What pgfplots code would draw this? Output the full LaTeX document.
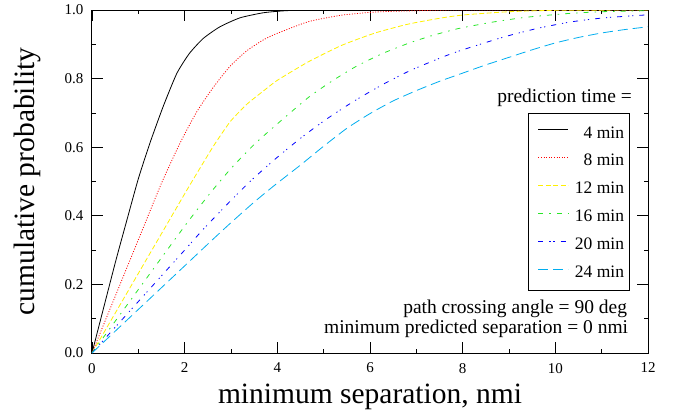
\documentclass[border=0pt]{standalone}
\usepackage{fontspec}
\setmainfont{Liberation Serif}
\usepackage{pgfplots}
\pgfplotsset{compat=1.18}
\definecolor{cgreen}{RGB}{40,230,40}
\definecolor{cyel}{RGB}{255,240,0}
\begin{document}
\begin{tikzpicture}
\useasboundingbox (-92pt,-60pt) rectangle (586pt,353pt);
\begin{axis}[
  at={(0,0)}, anchor=south west,
  scale only axis, width=556pt, height=343pt,
  xmin=0, xmax=12, ymin=0, ymax=1,
  xtick={0,2,4,6,8,10,12}, ytick={0,0.2,0.4,0.6,0.8,1.0},
  minor x tick num=1, minor y tick num=1,
  tick align=inside, tick pos=both,
  xticklabel pos=bottom, yticklabel pos=left,
  major tick length=11pt, minor tick length=4pt,
  every tick/.style={black, line width=0.8pt},
  axis line style={line width=1pt},
  /pgf/number format/assume math mode=true,
  xticklabel={\pgfmathprintnumber[assume math mode=true]{\tick}},
  yticklabel={\pgfmathprintnumber[assume math mode=true,fixed,fixed zerofill,precision=1]{\tick}},
  yticklabel style={font=\rmfamily\fontsize{15}{15}\selectfont, xshift=-5pt},
  xticklabel style={font=\rmfamily\fontsize{15}{15}\selectfont, yshift=-6.5pt},
  xlabel={minimum separation, nmi},
  ylabel={cumulative probability},
  xlabel style={font=\fontsize{29.5}{29.5}\selectfont, at={(axis description cs:0.5,0)}, anchor=base, yshift=-50pt},
  ylabel style={font=\fontsize{29.5}{29.5}\selectfont, at={(axis description cs:-0.1043,0.5)}, anchor=base},
  legend style={at={(axis description cs:0.9664,0.6988)}, anchor=north east, draw=black, line width=0.6pt,
    font=\fontsize{17.5}{17.5}\selectfont, inner xsep=5pt, inner ysep=4.5pt, row sep=0pt, column sep=6pt,
    nodes={inner sep=0pt, text height=19.9pt, text depth=8pt}},
  legend cell align=right,
  legend image code/.code={\path (0pt,0pt); \draw[#1, line width=0.9pt] (5pt,2.5pt) -- (35pt,2.5pt);},
  clip=true,
  every axis plot/.append style={smooth, tension=0.35},
]
\addplot[black, line width=0.8pt] coordinates {(0,0) (0.5,0.262) (0.75,0.386) (1.0,0.508) (1.25,0.612) (1.54,0.72) (1.83,0.815) (2.1,0.873) (2.4,0.917) (2.76,0.951) (3.19,0.977) (3.7,0.992) (4.2,0.998) (5,1.0) (12,1.0)};
\addlegendentry{4 min}
\addplot[red, line width=0.8pt, dash pattern=on 1pt off 1.6pt] coordinates {(0,0) (0.5,0.165) (1.0,0.33) (1.5,0.495) (1.9,0.612) (2.26,0.703) (2.62,0.775) (2.98,0.836) (3.34,0.881) (3.7,0.913) (4.0,0.932) (4.67,0.966) (5.39,0.985) (6.1,0.994) (7,0.998) (8,1.0) (12,1.0)};
\addlegendentry{8 min}
\addplot[cyel, line width=0.8pt, dash pattern=on 5pt off 2.5pt] coordinates {(0,0) (1,0.232) (2,0.464) (2.3,0.532) (2.62,0.603) (2.98,0.674) (3.34,0.725) (3.7,0.764) (4.0,0.795) (4.67,0.849) (5.39,0.897) (6.11,0.933) (6.83,0.959) (7.55,0.977) (8.05,0.986) (9,0.995) (10,0.999) (12,1.0)};
\addlegendentry{12 min}
\addplot[cgreen, line width=0.8pt, dash pattern=on 5pt off 6pt on 1.5pt off 6pt] coordinates {(0,0) (1,0.185) (2,0.37) (2.55,0.466) (3.0,0.538) (3.5,0.608) (4.0,0.668) (4.67,0.745) (5.17,0.792) (5.68,0.834) (6.25,0.872) (6.83,0.903) (7.33,0.925) (7.91,0.946) (8.66,0.965) (9.38,0.979) (10.3,0.99) (11,0.995) (12,0.998)};
\addlegendentry{16 min}
\addplot[blue, line width=0.8pt, dash pattern=on 5pt off 6pt on 1.2pt off 2.8pt on 1.2pt off 6pt] coordinates {(0,0) (1,0.15) (2,0.30) (2.41,0.362) (3.0,0.445) (3.45,0.505) (3.95,0.565) (4.49,0.625) (5.03,0.679) (5.64,0.733) (6.25,0.781) (6.86,0.823) (7.55,0.862) (7.98,0.883) (8.88,0.921) (9.6,0.946) (10.32,0.965) (11.04,0.977) (12,0.986)};
\addlegendentry{20 min}
\addplot[cyan, line width=0.8pt, dash pattern=on 10pt off 5pt] coordinates {(0,0) (1,0.127) (2,0.254) (2.59,0.329) (3.0,0.38) (3.5,0.44) (3.95,0.49) (4.5,0.548) (5.0,0.603) (5.5,0.655) (6.0,0.698) (6.5,0.735) (7.0,0.765) (7.5,0.792) (8.0,0.816) (8.5,0.84) (9.0,0.862) (9.5,0.884) (10,0.904) (10.5,0.92) (11,0.933) (11.5,0.943) (12,0.951)};
\addlegendentry{24 min}
\node[anchor=base east, inner sep=0pt, font=\fontsize{19.5}{19.5}\selectfont] at (rel axis cs:0.9712,0.7289) {prediction time =};
\node[anchor=base east, inner sep=0pt, font=\fontsize{19.5}{19.5}\selectfont] at (rel axis cs:0.9628,0.1157) {path crossing angle = 90 deg};
\node[anchor=base east, inner sep=0pt, font=\fontsize{19.5}{19.5}\selectfont] at (rel axis cs:0.9646,0.0574) {minimum predicted separation = 0 nmi};
\end{axis}
\end{tikzpicture}
\end{document}
